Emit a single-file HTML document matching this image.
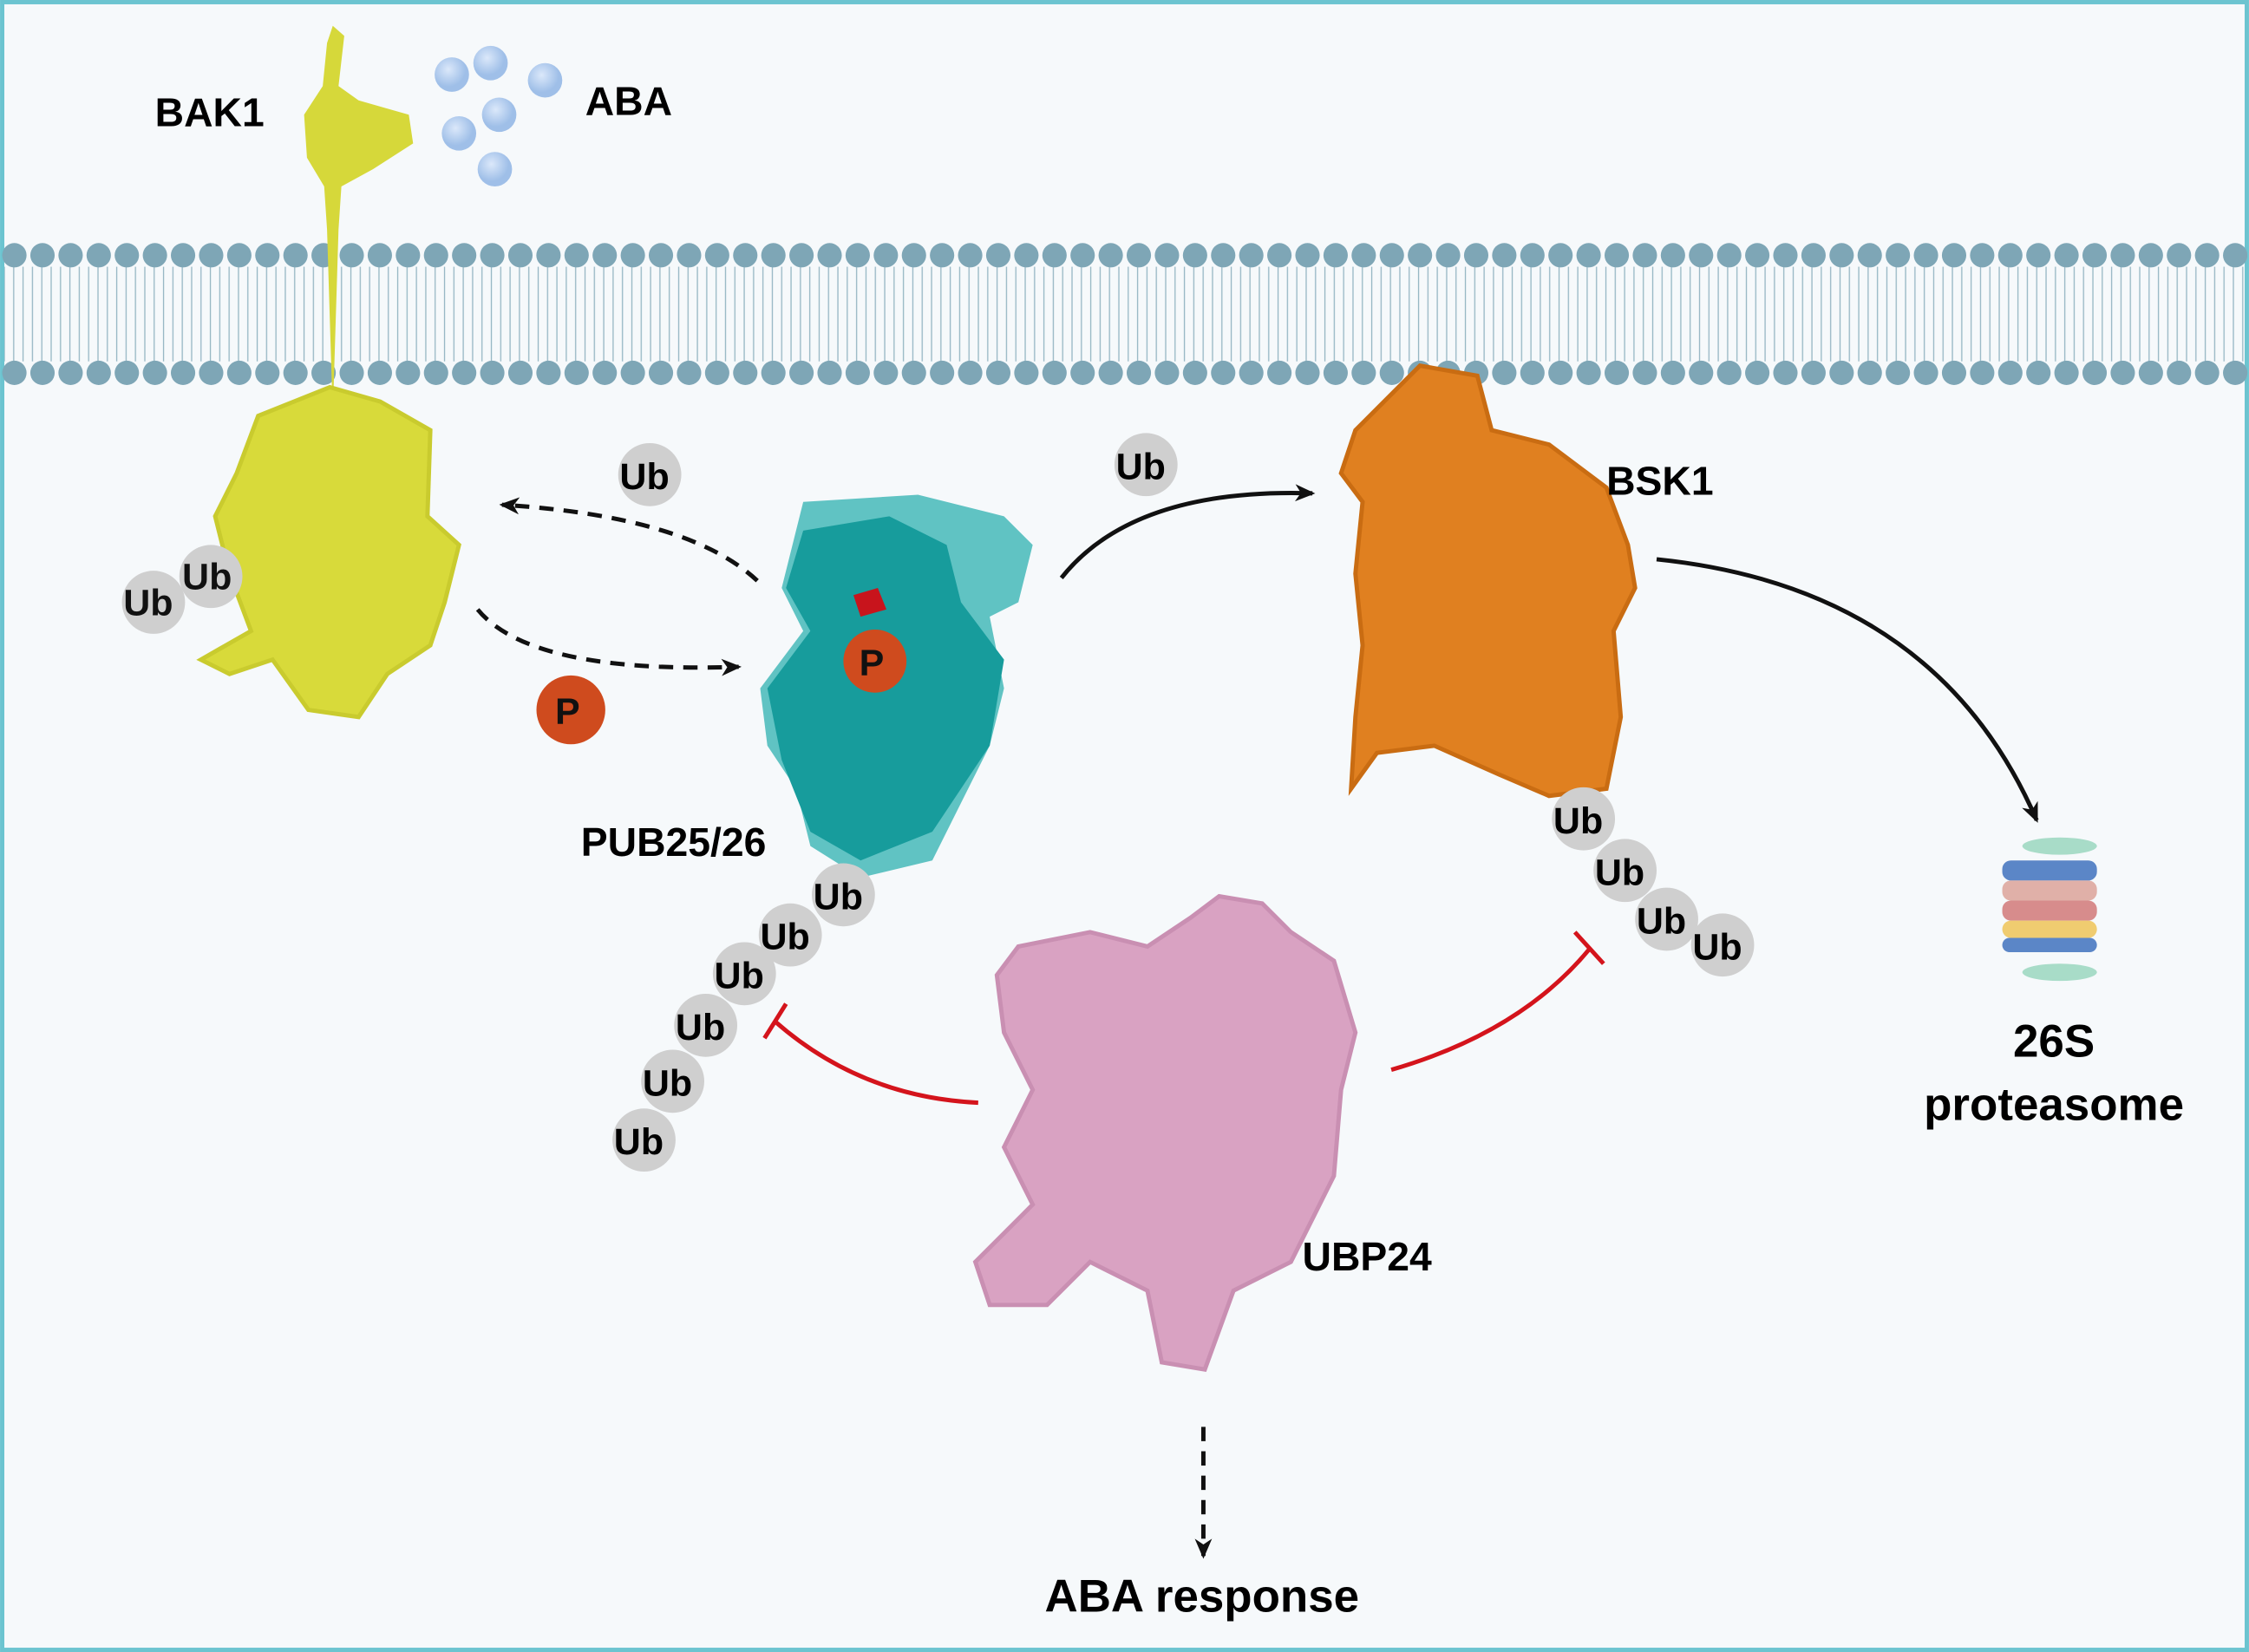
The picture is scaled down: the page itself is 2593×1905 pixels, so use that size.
<!DOCTYPE html>
<html><head><meta charset="utf-8"><style>html,body{margin:0;padding:0;background:#fff}svg{display:block}</style></head><body>
<svg width="2593" height="1905" viewBox="0 0 1568 1152" xmlns="http://www.w3.org/2000/svg" font-family="Liberation Sans, sans-serif" font-weight="bold">
<defs>
<pattern id="tails" x="0" y="0" width="6.53" height="10" patternUnits="userSpaceOnUse">
<line x1="3" y1="0" x2="3" y2="10" stroke="#7ea6b6" stroke-width="0.8"/>
</pattern>
<marker id="ah" markerWidth="14" markerHeight="12" refX="12" refY="6" orient="auto" markerUnits="userSpaceOnUse"><path d="M0,0 L14,6 L0,12 L4,6 z" fill="#111"/></marker>
<radialGradient id="aba" cx="40%" cy="35%"><stop offset="0" stop-color="#dbe8fa"/><stop offset="1" stop-color="#9fbfe8"/></radialGradient>
</defs>
<rect x="1.5" y="1.5" width="1565" height="1149" fill="#f6f9fb" stroke="#6cc4d0" stroke-width="3"/>
<rect x="3" y="186" width="1562" height="66" fill="url(#tails)" opacity="0.8"/>
<line x1="10" y1="178" x2="1565" y2="178" stroke="#7ea6b6" stroke-width="17" stroke-linecap="round" stroke-dasharray="0 19.6"/>
<line x1="10" y1="260" x2="1565" y2="260" stroke="#7ea6b6" stroke-width="17" stroke-linecap="round" stroke-dasharray="0 19.6"/>
<path d="M232,18 L240,25 L236,60 L250,70 L285,80 L288,100 L260,118 L238,130 L236,160 L232,290 L228,160 L226,130 L214,110 L212,80 L225,60 L228,30 Z" fill="#d6d83a"/>
<path d="M180,290 L230,270 L265,280 L300,300 L298,360 L320,380 L310,420 L300,450 L270,470 L250,500 L215,495 L190,460 L160,470 L140,460 L175,440 L160,400 L150,360 L165,330 Z" fill="#d8da3a" stroke="#c9cb2e" stroke-width="3"/>
<g fill="url(#aba)"><circle cx="315" cy="52" r="12"/><circle cx="342" cy="44" r="12"/><circle cx="380" cy="56" r="12"/><circle cx="320" cy="93" r="12"/><circle cx="348" cy="80" r="12"/><circle cx="345" cy="118" r="12"/></g>
<text x="108" y="88" font-size="28">BAK1</text>
<text x="408" y="80" font-size="28">ABA</text>
<g fill="#cfcfcf"><circle cx="107" cy="420" r="22"/><circle cx="147" cy="402" r="22"/></g>
<g font-size="26" fill="#111"><text x="86" y="429">Ub</text><text x="127" y="411">Ub</text></g>
<path d="M560,350 L640,345 L700,360 L720,380 L710,420 L690,430 L700,480 L690,520 L670,560 L650,600 L600,612 L565,590 L555,550 L535,520 L530,480 L560,440 L545,410 Z" fill="#60c3c3"/>
<path d="M560,370 L620,360 L660,380 L670,420 L700,460 L690,520 L650,580 L600,600 L565,580 L545,530 L535,480 L565,440 L548,410 Z" fill="#179c9c"/>
<path d="M595,415 L612,410 L618,425 L600,430 Z" fill="#c8141c"/>
<circle cx="610" cy="461" r="22" fill="#cf4b1e"/><text x="599" y="471" font-size="26" fill="#111">P</text>
<circle cx="398" cy="495" r="24" fill="#cf4b1e"/><text x="387" y="505" font-size="26" fill="#111">P</text>
<text x="405" y="597" font-size="28">PUB25/26</text>
<circle cx="453" cy="331" r="22" fill="#cfcfcf"/><text x="432" y="341" font-size="26">Ub</text>
<g fill="#cfcfcf"><circle cx="588" cy="624" r="22"/><circle cx="551" cy="652" r="22"/><circle cx="519" cy="679" r="22"/><circle cx="492" cy="715" r="22"/><circle cx="469" cy="754" r="22"/><circle cx="449" cy="795" r="22"/></g>
<g font-size="26"><text x="567" y="634">Ub</text><text x="530" y="662">Ub</text><text x="498" y="689">Ub</text><text x="471" y="725">Ub</text><text x="448" y="764">Ub</text><text x="428" y="805">Ub</text></g>
<path d="M945,300 L990,255 L1030,262 L1040,300 L1080,310 L1120,340 L1135,380 L1140,410 L1125,440 L1130,500 L1120,550 L1080,555 L1045,540 L1000,520 L960,525 L942,550 L945,500 L950,450 L945,400 L950,350 L935,330 Z" fill="#e08020" stroke="#c96c12" stroke-width="3"/>
<text x="1120" y="345" font-size="28">BSK1</text>
<circle cx="799" cy="324" r="22" fill="#cfcfcf"/><text x="778" y="334" font-size="26">Ub</text>
<g fill="#cfcfcf"><circle cx="1104" cy="571" r="22"/><circle cx="1133" cy="607" r="22"/><circle cx="1162" cy="641" r="22"/><circle cx="1201" cy="659" r="22"/></g>
<g font-size="26"><text x="1083" y="581">Ub</text><text x="1112" y="617">Ub</text><text x="1141" y="651">Ub</text><text x="1180" y="669">Ub</text></g>
<path d="M710,660 L760,650 L800,660 L830,640 L850,625 L880,630 L900,650 L930,670 L945,720 L935,760 L930,820 L900,880 L860,900 L840,955 L810,950 L800,900 L760,880 L730,910 L690,910 L680,880 L720,840 L700,800 L720,760 L700,720 L695,680 Z" fill="#d9a2c2" stroke="#c98fb2" stroke-width="3"/>
<text x="908" y="886" font-size="28">UBP24</text>
<ellipse cx="1436" cy="590" rx="26" ry="6" fill="#a8dcc8"/>
<rect x="1396" y="600" width="66" height="14" rx="6" fill="#5b86c7"/>
<rect x="1396" y="614" width="66" height="14" rx="6" fill="#e0b0a8"/>
<rect x="1396" y="628" width="66" height="14" rx="6" fill="#d78c8c"/>
<rect x="1396" y="642" width="66" height="12" rx="6" fill="#f0cc70"/>
<rect x="1396" y="654" width="66" height="10" rx="5" fill="#5b86c7"/>
<ellipse cx="1436" cy="678" rx="26" ry="6" fill="#a8dcc8"/>
<text x="1432" y="737" font-size="32" text-anchor="middle">26S</text>
<text x="1432" y="781" font-size="32" text-anchor="middle">proteasome</text>
<g fill="none" stroke="#111" stroke-width="3">
<path d="M528,405 Q480,360 350,352" stroke-dasharray="10,7" marker-end="url(#ah)"/>
<path d="M333,425 Q370,470 515,465" stroke-dasharray="10,7" marker-end="url(#ah)"/>
<path d="M740,403 Q790,340 915,344" marker-end="url(#ah)"/>
<path d="M1155,390 Q1350,410 1420,572" marker-end="url(#ah)"/>
<path d="M839,995 L839,1085" stroke-dasharray="10,7" marker-end="url(#ah)"/>
</g>
<g fill="none" stroke="#d4141c" stroke-width="3">
<path d="M682,769 Q600,765 540,712"/><line x1="533" y1="724" x2="548" y2="700"/>
<path d="M970,746 Q1060,720 1108,662"/><line x1="1098" y1="650" x2="1118" y2="672"/>
</g>
<text x="838" y="1124" font-size="32" text-anchor="middle">ABA response</text>
</svg>
</body></html>
